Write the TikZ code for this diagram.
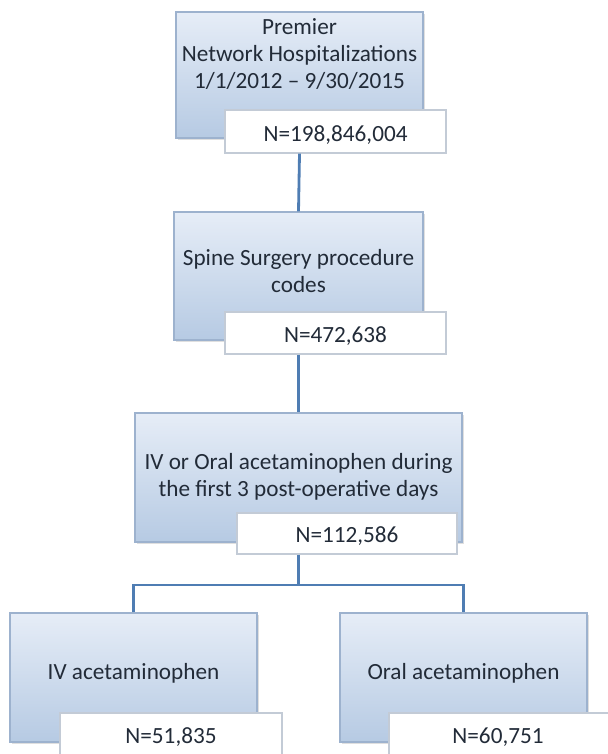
\documentclass[tikz,border=0pt]{standalone}
\usepackage{fontspec}
\setmainfont{Carlito}
\usetikzlibrary{fit,shadows}

\definecolor{boxTop}{HTML}{E6EDF7}
\definecolor{boxBottom}{HTML}{B6CAE3}
\definecolor{boxEdge}{HTML}{9DB2CE}
\definecolor{countEdge}{HTML}{C3CBD6}
\definecolor{linkBlue}{HTML}{4F7DB3}
\definecolor{labelInk}{HTML}{222B38}

\begin{document}
\begin{tikzpicture}[x=0.025cm, y=-0.025cm,
    stagebox/.style={draw=boxEdge, line width=0.8pt, top color=boxTop, bottom color=boxBottom,
        inner sep=0pt, drop shadow={shadow xshift=1.2pt, shadow yshift=-1.2pt, opacity=0.25}},
    countbox/.style={draw=countEdge, line width=0.8pt, fill=white, inner sep=0pt},
    stagetext/.style={align=center, font=\fontsize{16.5}{19.5}\selectfont, text=labelInk},
    link/.style={draw=linkBlue, line width=2pt}]

    \useasboundingbox (0,0) rectangle (607,754);

    % stage boxes
    \node[stagebox, fit={(176,12) (423,138)}] (b1) {};
    \node[stagebox, fit={(174,212) (423,340)}] (b2) {};
    \node[stagebox, fit={(135,413) (462,542)}] (b3) {};
    \node[stagebox, fit={(10,613) (257,742)}] (b4) {};
    \node[stagebox, fit={(340,613) (587,742)}] (b5) {};

    \node[stagetext] (t1) at (299.5,54) {Premier\\Network Hospitalizations\\1/1/2012 -- 9/30/2015};
    \node[stagetext] (t2) at (298.5,271) {Spine Surgery procedure\\codes};
    \node[stagetext] (t3) at (298.5,477) {IV or Oral acetaminophen during\\the first 3 post-operative days};
    \node[stagetext] (t4) at (133.5,673) {IV acetaminophen};
    \node[stagetext] (t5) at (463.5,673) {Oral acetaminophen};

    % counts
    \node[countbox, fit={(225,110) (446,153)}] (n1) {};
    \node[countbox, fit={(225,312) (446,354)}] (n2) {};
    \node[countbox, fit={(237,513) (457,554)}] (n3) {};
    \node[countbox, fit={(60,713) (282,770)}] (n4) {};
    \node[countbox, fit={(389,713) (611,770)}] (n5) {};

    \node[stagetext] (c1) at (335.5,135) {N=198,846,004};
    \node[stagetext] (c2) at (335.5,336) {N=472,638};
    \node[stagetext] (c3) at (347,536) {N=112,586};
    \node[stagetext] (c4) at (171,737) {N=51,835};
    \node[stagetext] (c5) at (498,737) {N=60,751};

    \coordinate (split) at (298.5,585);

    \draw[link] (n1.south -| b1.center) -- (b2.north);
    \draw[link] (n2.south -| b2.center) -- (b3.north);
    \draw[link] (n3.south -| b3.center) -- (split);
    \draw[link] (b4.north) |- (split) -| (b5.north);

\end{tikzpicture}
\end{document}
